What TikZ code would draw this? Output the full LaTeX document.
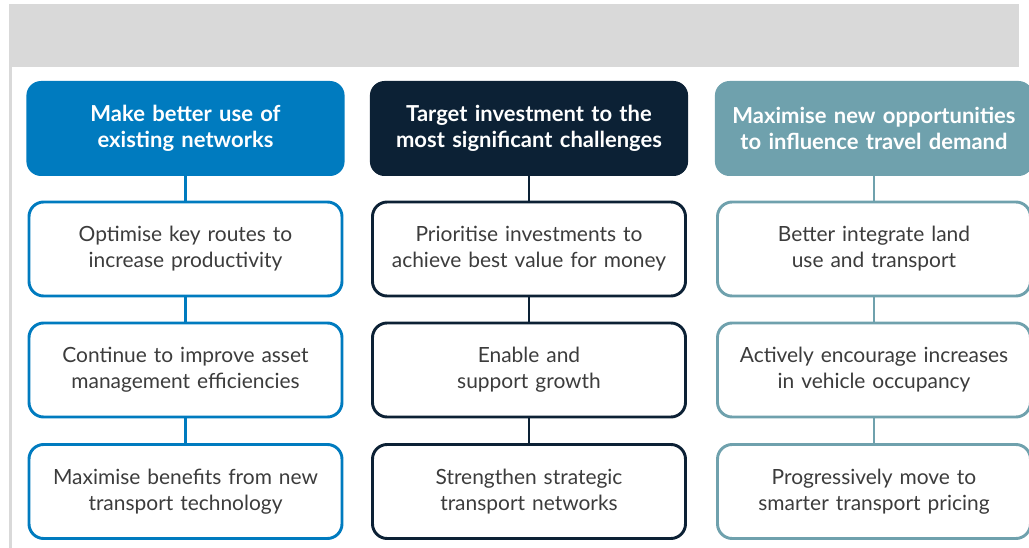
\documentclass[tikz,border=0pt]{standalone}
\usepackage{fontspec}
\setmainfont{Lato}
\usetikzlibrary{positioning}

\definecolor{netblue}{HTML}{007BBF}
\definecolor{invnavy}{HTML}{0C2135}
\definecolor{optteal}{HTML}{6FA1AD}
\definecolor{bargray}{HTML}{D9D9D9}
\definecolor{bodytext}{HTML}{3C3C3C}

\tikzset{
    head/.style={rounded corners=11pt, minimum width=236pt, minimum height=71.25pt,
        text width=232pt, align=center, text=white,
        font=\bfseries\fontsize{16.5}{19.5}\selectfont},
    aim/.style={draw=#1, line width=2.2pt, rounded corners=11pt, fill=white,
        minimum width=234.75pt, minimum height=70.5pt, text width=228pt,
        align=center, text=bodytext, font=\fontsize{15.7}{19.5}\selectfont},
    link/.style={draw=#1, line width=2.2pt}
}

\begin{document}
\begin{tikzpicture}[x=0.75pt, y=-0.75pt]
    \useasboundingbox (0,0) rectangle (1029,548);
    \clip (0,0) rectangle (1029,548);

    % Grey band and left rule
    \fill[bargray] (9,4) rectangle (1019,67);
    \fill[bargray] (9,67) rectangle (12,548);

    % Headers
    \node[head, fill=netblue] (h1) at (185.5,128.5) {Make better use of\\existing networks};
    \node[head, fill=invnavy] (h2) at (529,128.5) {Target investment to the\\most significant challenges};
    \node[head, fill=optteal] (h3) at (874,128.5) {Maximise new opportunities\\to influence travel demand};

    % Column 1
    \node[aim=netblue] (a1) at (185.5,249) {Optimise key routes to\\increase productivity};
    \node[aim=netblue] (a2) at (185.5,370) {Continue to improve asset\\management efficiencies};
    \node[aim=netblue] (a3) at (185.5,491.5) {Maximise benefits from new\\transport technology};

    % Column 2
    \node[aim=invnavy] (b1) at (529,249) {Prioritise investments to\\achieve best value for money};
    \node[aim=invnavy] (b2) at (529,370) {Enable and\\support growth};
    \node[aim=invnavy] (b3) at (529,491.5) {Strengthen strategic\\transport networks};

    % Column 3
    \node[aim=optteal] (c1) at (874,249) {Better integrate land\\use and transport};
    \node[aim=optteal] (c2) at (874,370) {Actively encourage increases\\in vehicle occupancy};
    \node[aim=optteal] (c3) at (874,491.5) {Progressively move to\\smarter transport pricing};

    % Links
    \draw[link=netblue] (h1) -- (a1);
    \draw[link=netblue] (a1) -- (a2);
    \draw[link=netblue] (a2) -- (a3);
    \draw[link=invnavy] (h2) -- (b1);
    \draw[link=invnavy] (b1) -- (b2);
    \draw[link=invnavy] (b2) -- (b3);
    \draw[link=optteal] (h3) -- (c1);
    \draw[link=optteal] (c1) -- (c2);
    \draw[link=optteal] (c2) -- (c3);
\end{tikzpicture}
\end{document}
